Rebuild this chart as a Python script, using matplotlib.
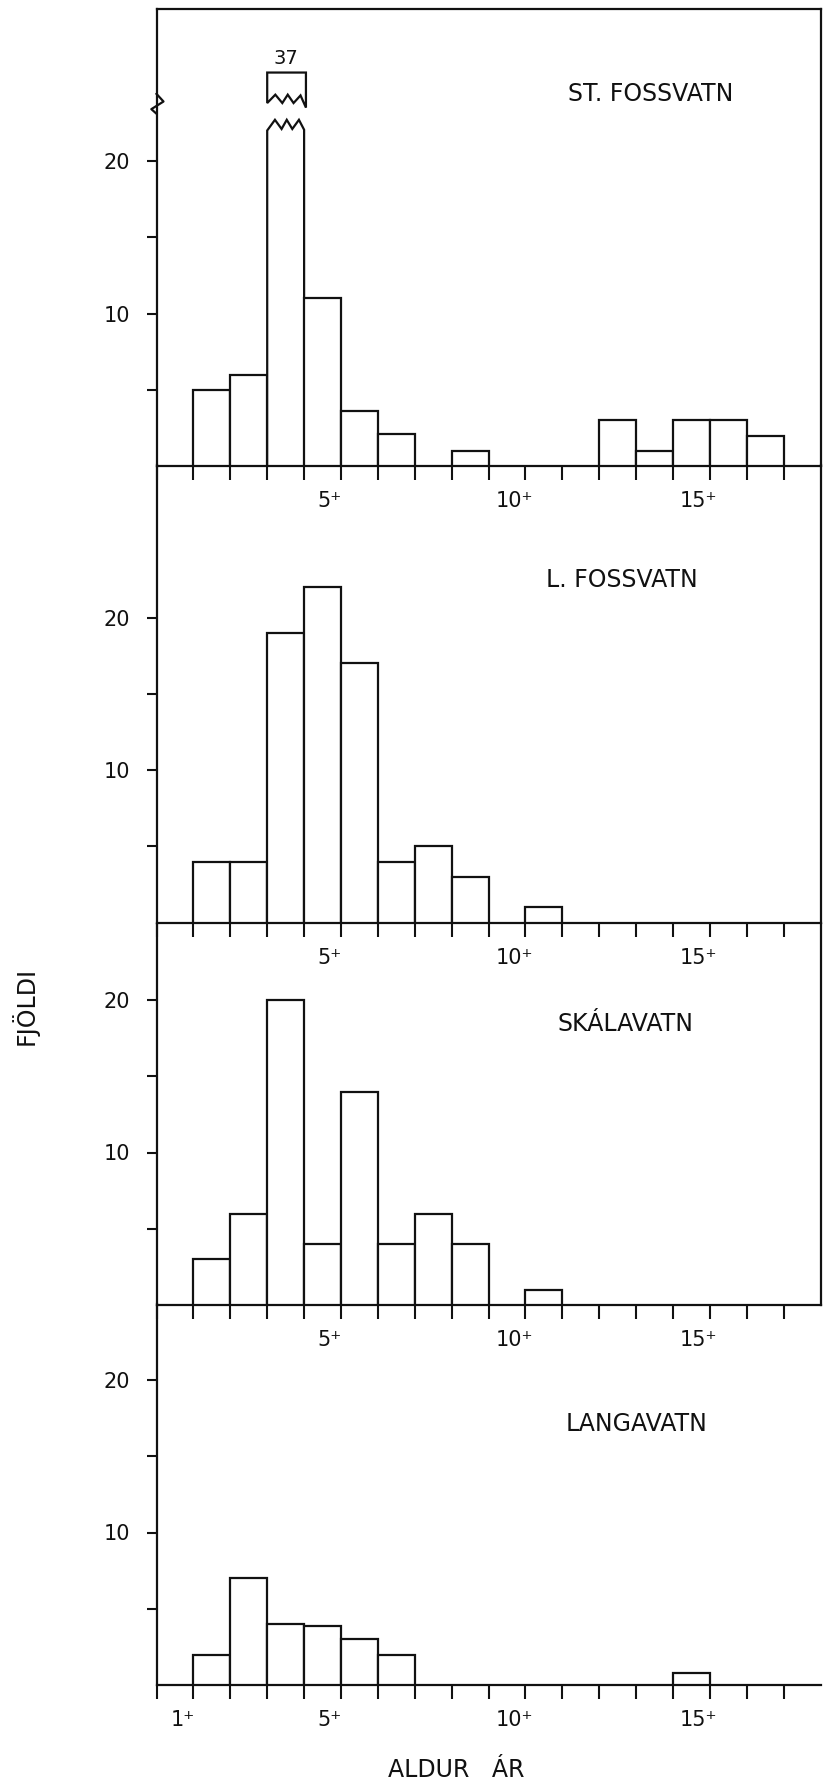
import matplotlib
matplotlib.use('Agg')
import matplotlib.pyplot as plt
import numpy as np
from matplotlib.patches import Polygon

# General look: black ink on white paper
plt.rc('font', family='DejaVu Sans', size=14)
plt.rc('axes', linewidth=1.6, edgecolor='#111111')
plt.rc('xtick', color='#111111')
plt.rc('ytick', color='#111111')

# Age classes 1+ ... 17+ (one bin per year)
ages = np.arange(1, 18)

# Number of fish in each age class, one list per lake
st_fossvatn = [0, 5, 6, 37, 11, 3.6, 2.1, 0, 1, 0, 0, 0, 3, 1, 3, 3, 2]
l_fossvatn = [0, 4, 4, 19, 22, 17, 4, 5, 3, 0, 1, 0, 0, 0, 0, 0, 0]
skalavatn = [0, 3, 6, 20, 4, 14, 4, 6, 4, 0, 1, 0, 0, 0, 0, 0, 0]
langavatn = [0, 2, 7, 4, 3.9, 3, 2, 0, 0, 0, 0, 0, 0, 0, 0.8, 0, 0]

lakes = ['ST. FOSSVATN', 'L. FOSSVATN', 'SKÁLAVATN', 'LANGAVATN']
counts = [st_fossvatn, l_fossvatn, skalavatn, langavatn]
y_top = [30, 30, 25, 25]

# Tick labels along the age axis
age_labels = [1, 5, 10, 15]

# Figure, one panel per lake stacked on top of each other
W, H = 823, 1786
fig = plt.figure(figsize=(W / 100, H / 100), dpi=100)

baselines = [466, 922.7, 1305, 1685]   # pixel row of each zero line
unit = 15.25                            # pixels per fish
left, bin_w = 156.5, 36.9

# where each lake name sits (data coords)
name_pos = [(13.4, 24.4), (12.6, 22.5), (12.7, 18.4), (13.0, 17.1)]

# Break in a bar that runs off the scale
break_lo, break_hi, cap_top = 22.0, 23.8, 25.8
zig_x = np.array([0, 0.21, 0.39, 0.53, 0.68, 0.86, 1.0])
zig_lo = np.array([0, 0.7, 0.1, 0.7, 0.1, 0.7, 0.05])
zig_hi = np.array([0, 0.55, 0.0, 0.55, 0.0, 0.5, -0.3])

ink = '#111111'
axes = []
for k in range(4):
    h_px = y_top[k] * unit
    bottom = 1 - baselines[k] / H
    ax = fig.add_axes([left / W, bottom, 18 * bin_w / W, h_px / H])
    ax.patch.set_visible(False)
    ax.set_xlim(0, 18)
    ax.set_ylim(0, y_top[k])
    axes.append(ax)

    vals = np.array(counts[k], dtype=float)
    for a, v in zip(ages, vals):
        x0 = a - 1
        if v == 0:
            continue
        if v > y_top[k]:
            # lower stump with a torn top
            lo = list(zip(x0 + zig_x, break_lo + zig_lo))
            ax.add_patch(Polygon([(x0, 0)] + lo + [(x0 + 1, 0)], closed=True,
                                 facecolor='white', edgecolor=ink, lw=1.6, zorder=3))
            # upper cap with a torn bottom
            hi = list(zip(x0 + zig_x * 1.05, break_hi + zig_hi))
            ax.add_patch(Polygon(hi[::-1] + [(x0, cap_top), (x0 + 1.05, cap_top)], closed=True,
                                 facecolor='white', edgecolor=ink, lw=1.6, zorder=3))
            ax.text(x0 + 0.5, cap_top + 0.95, f'{v:g}', ha='center', va='center',
                    fontsize=14, color=ink)
        else:
            ax.bar(x0, v, width=1, align='edge', facecolor='white',
                   edgecolor=ink, linewidth=1.6, zorder=3)

    # spines
    ax.spines['top'].set_visible(k == 0)
    ax.spines['right'].set_visible(k < 3)

    # age axis: ticks at bin edges, labels sit under the bins
    ax.set_xticks(np.arange(0, 18))
    ax.set_xticklabels([])
    shown = age_labels if k == 3 else age_labels[1:]
    ax.set_xticks([a - 0.3 for a in shown], [f'{a}⁺' for a in shown], minor=True)
    ax.tick_params(axis='x', which='major', direction='out', length=10, width=1.5)
    ax.tick_params(axis='x', which='minor', length=0, pad=18, labelsize=15)

    # count axis
    ax.set_yticks([5, 10, 15, 20], ['', '10', '', '20'])
    ax.tick_params(axis='y', direction='out', length=7, width=1.5, pad=12, labelsize=15)

    ax.text(name_pos[k][0], name_pos[k][1], lakes[k], ha='center', va='center',
            fontsize=17, color=ink)

# squiggle on the count axis marking the break
axes[0].plot([0, 0.19, -0.14, 0], [24.4, 23.9, 23.4, 23.1], color=ink,
             lw=1.6, clip_on=False, zorder=4)

fig.text(25 / W, 1 - 1006 / H, 'FJÖLDI', rotation=90, ha='center', va='center',
         fontsize=17, color=ink)
fig.text(456 / W, 1 - 1770 / H, 'ALDUR   ÁR', ha='center', va='center',
         fontsize=17, color=ink)

fig.savefig('out.png', dpi=100, facecolor='white')
